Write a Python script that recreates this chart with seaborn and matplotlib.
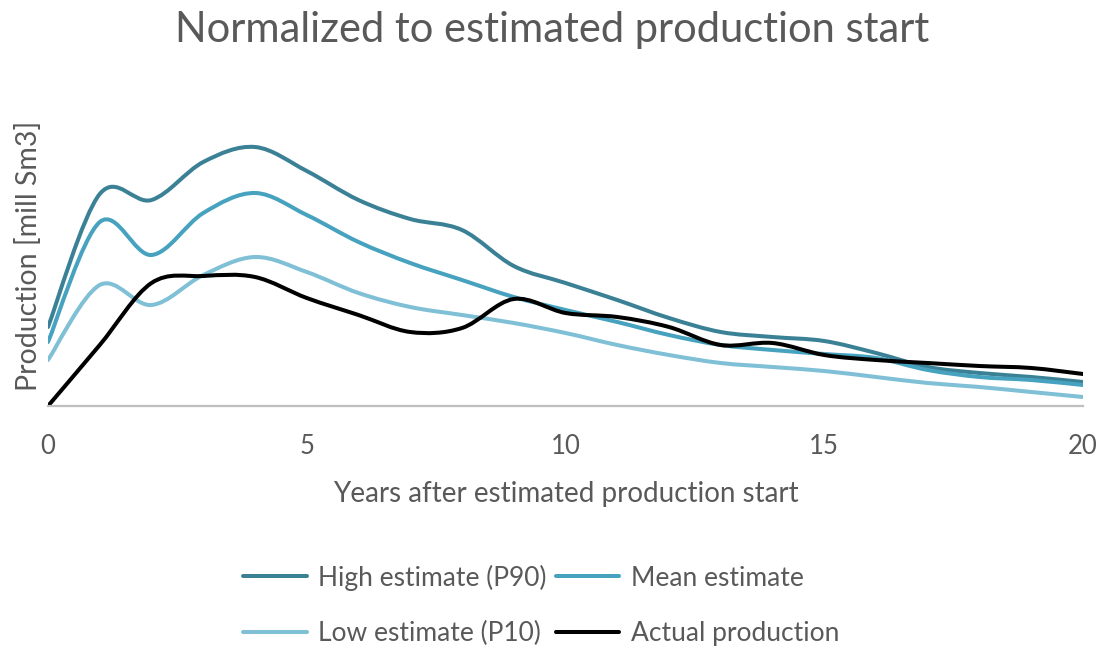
import numpy as np
import pandas as pd
import matplotlib
matplotlib.use("Agg")
import matplotlib.pyplot as plt
import seaborn as sns
from matplotlib import patheffects
from matplotlib.path import Path
from matplotlib.transforms import IdentityTransform
from matplotlib.lines import Line2D

# Yearly production profiles (mill Sm3)
years = list(range(0, 21))
high_p90 = [7.9, 21.2, 20.6, 24.4, 25.9, 23.5, 20.6, 18.7, 17.6, 14.0, 12.3,
            10.6, 8.8, 7.4, 6.9, 6.5, 5.3, 3.9, 3.3, 2.9, 2.4]
mean_est = [6.4, 18.4, 15.1, 19.3, 21.3, 19.1, 16.4, 14.3, 12.6, 10.9, 9.6,
            8.4, 7.1, 6.1, 5.6, 5.2, 4.8, 3.6, 2.9, 2.6, 2.1]
low_p10 = [4.6, 12.1, 10.1, 13.1, 14.9, 13.4, 11.3, 9.9, 9.1, 8.3, 7.3,
           6.1, 5.1, 4.3, 3.9, 3.5, 2.9, 2.3, 1.9, 1.4, 0.9]
actual = [0.0, 6.1, 12.3, 13.0, 12.9, 10.8, 9.1, 7.4, 7.8, 10.7, 9.3,
          8.9, 7.9, 6.1, 6.3, 5.1, 4.6, 4.3, 4.0, 3.8, 3.2]

series_names = ["High estimate (P90)", "Mean estimate",
                "Low estimate (P10)", "Actual production"]
series_values = [high_p90, mean_est, low_p10, actual]
colors = ["#3B8196", "#46A2BE", "#7FC0D6", "#000000"]
x_ticks = [0, 5, 10, 15, 20]


class SmoothLine(patheffects.AbstractPathEffect):
    """Render a polyline as a Catmull-Rom Bezier curve through its vertices."""

    def draw_path(self, renderer, gc, tpath, affine, rgbFace=None):
        verts = affine.transform(tpath.vertices)
        n = len(verts)
        if n < 3:
            renderer.draw_path(gc, tpath, affine, rgbFace)
            return
        pts = [verts[0]]
        codes = [Path.MOVETO]
        for i in range(n - 1):
            p0 = verts[max(i - 1, 0)]
            p1 = verts[i]
            p2 = verts[i + 1]
            p3 = verts[min(i + 2, n - 1)]
            pts += [p1 + (p2 - p0) / 6.0, p2 - (p3 - p1) / 6.0, p2]
            codes += [Path.CURVE4] * 3
        renderer.draw_path(gc, Path(np.array(pts), codes), IdentityTransform(), rgbFace)


df = pd.DataFrame({
    "year": years * len(series_names),
    "production": sum(series_values, []),
    "series": sum([[n] * len(years) for n in series_names], []),
})

sns.set_theme(style="white")
plt.rcParams["font.family"] = ["Lato", "DejaVu Sans"]
text_color = "#595959"

fig = plt.figure(figsize=(11.05, 6.48), dpi=100)
ax = fig.add_axes([48 / 1105, (648 - 406) / 648, (1083 - 48) / 1105, 300 / 648])

sns.lineplot(data=df, x="year", y="production", hue="series",
             hue_order=series_names, palette=dict(zip(series_names, colors)),
             linewidth=2.9, estimator=None, legend=False, ax=ax)
for line in ax.lines:
    line.set_path_effects([SmoothLine()])
    line.set_solid_capstyle("round")

ax.set_xlim(0, 20)
ax.set_ylim(0, 30)
ax.set_xticks(x_ticks)
ax.set_xticklabels([str(t) for t in x_ticks])
ax.set_yticks([])
ax.tick_params(axis="x", length=0, pad=20, labelsize=18.5, labelcolor=text_color)
sns.despine(ax=ax, left=True)
ax.spines["bottom"].set_color("#BFBFBF")
ax.spines["bottom"].set_linewidth(1.6)

ax.set_xlabel("Years after estimated production start", fontsize=20,
              color=text_color, labelpad=16)
ax.set_ylabel("Production [mill Sm3]", fontsize=20.5, color=text_color, labelpad=4)
fig.suptitle("Normalized to estimated production start", fontsize=30,
             color=text_color, y=0.983)

handles = [Line2D([], [], color=c, linewidth=2.9) for c in colors]
order = [0, 2, 1, 3]
leg = fig.legend([handles[i] for i in order], [series_names[i] for i in order],
                 loc="center", bbox_to_anchor=(0.49, 0.066), ncol=2,
                 frameon=False, fontsize=19, handlelength=2.4, handletextpad=0.45,
                 columnspacing=0.35, labelspacing=1.15, labelcolor=text_color)

fig.savefig("out.png", dpi=100, facecolor="white")
